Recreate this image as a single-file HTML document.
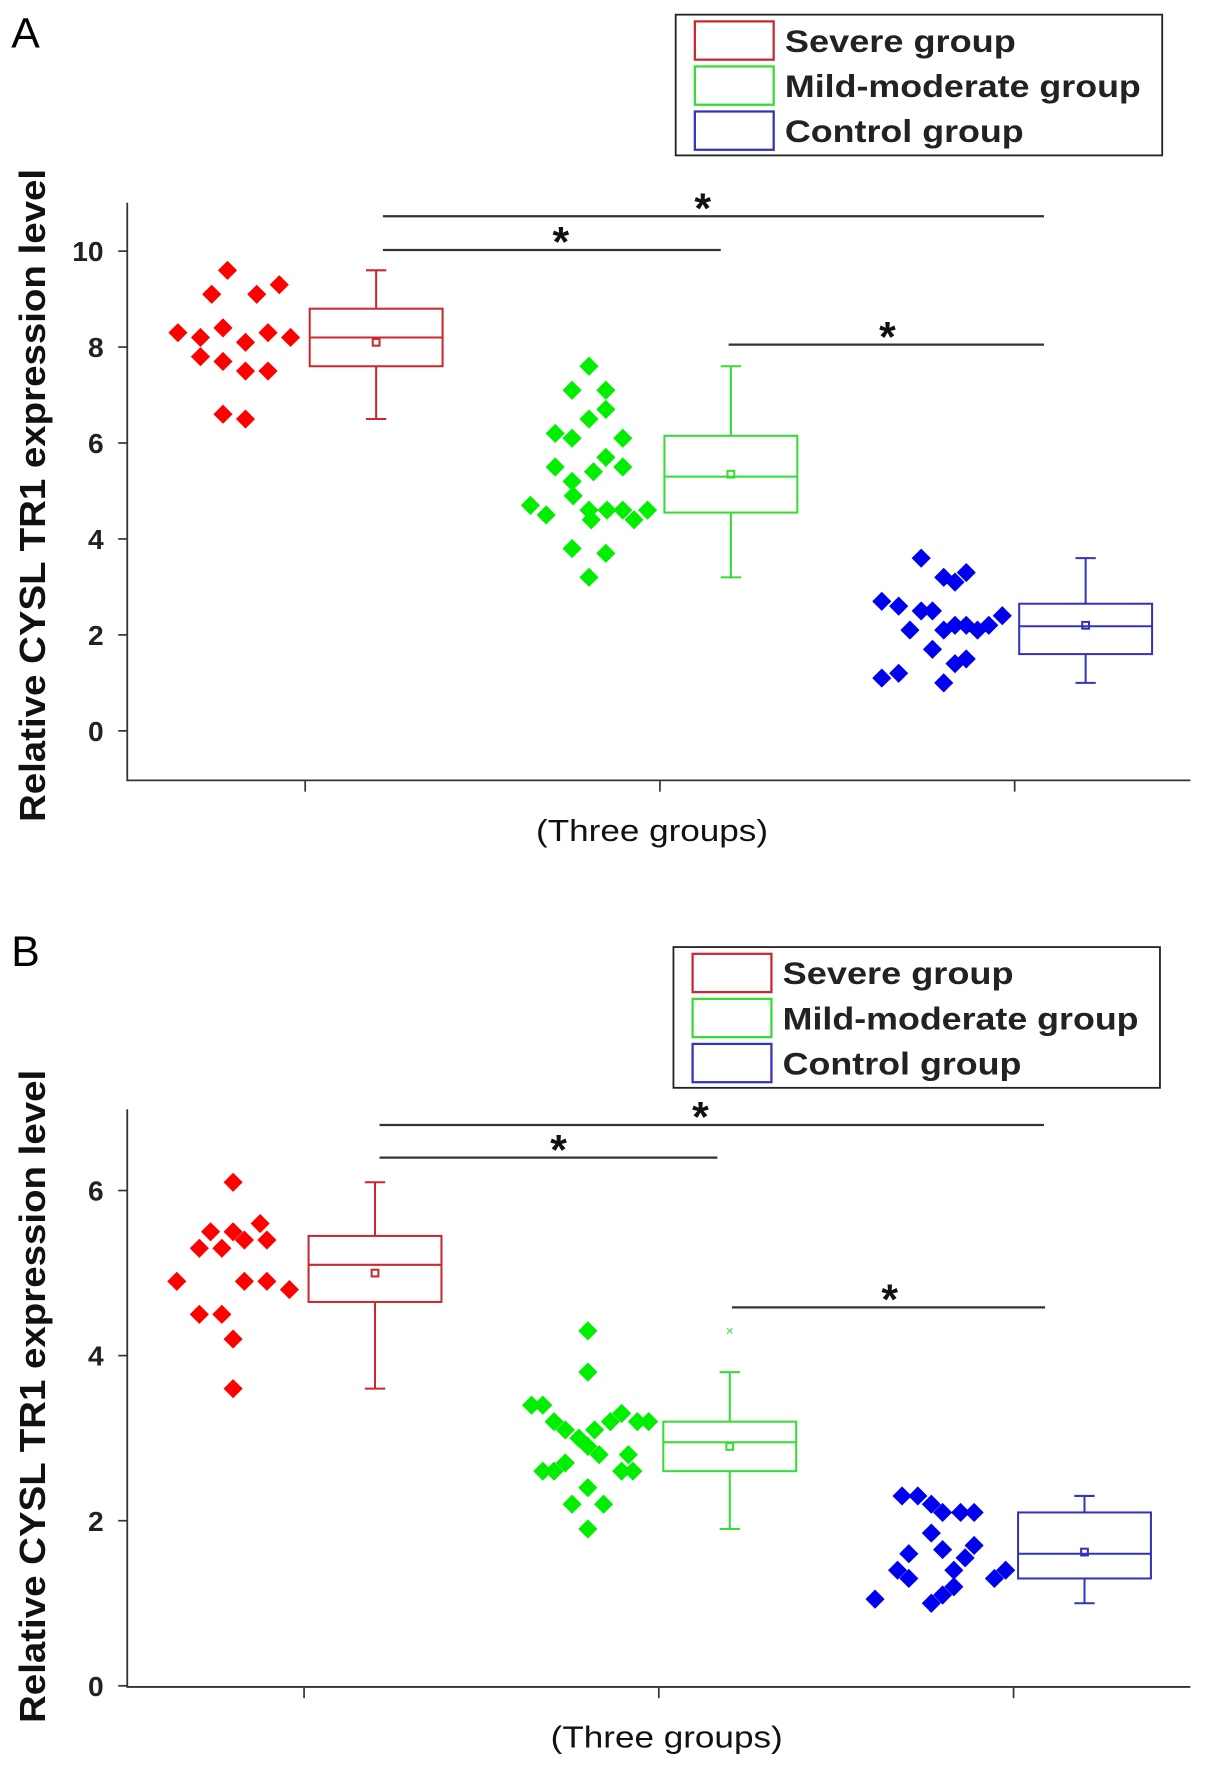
<!DOCTYPE html>
<html><head><meta charset="utf-8"><style>
html,body{margin:0;padding:0;background:#fff;}
svg{display:block;}
text{font-family:"Liberation Sans",sans-serif;}
</style></head><body>
<svg id="fig" width="1205" height="1768" viewBox="0 0 1070 1570" preserveAspectRatio="none" xmlns="http://www.w3.org/2000/svg"></svg>
<script>
// ---- Panel A data ----
const categories = ["Severe group","Mild-moderate group","Control group"];
const colors = ["#ff0000","#00ee00","#0000ee"];
const boxColors = ["#c8282e","#33dd33","#3333bb"];
const aRedVals = [9.6,9.1,9.1,9.3,8.3,8.2,8.4,8.1,8.3,8.2,7.8,7.7,7.5,7.5,6.6,6.5];
const aRedJit = [-0.3,-1,1,2,-2.5,-1.5,-0.5,0.5,1.5,2.5,-1.5,-0.5,0.5,1.5,-0.5,0.5];
const aGreenVals = [7.6,7.1,7.1,6.5,6.7,6.2,6.1,6.1,5.5,5.7,5.5,5.2,5.4,4.7,4.5,4.9,4.6,4.6,4.4,4.6,4.4,4.6,3.8,3.7,3.2];
const aGreenJit = [0,-0.75,0.75,0,0.75,-1.5,-0.75,1.5,-1.5,0.75,1.5,-0.75,0.2,-2.6,-1.9,-0.7,0,0.8,0.1,1.5,2,2.6,-0.75,0.75,0];
const aBlueVals = [3.6,3.2,3.1,3.3,2.7,2.6,2.5,2.5,2.1,2.1,2.2,2.2,2.1,2.2,2.4,1.7,1.4,1.5,1.1,1.2,1.0];
const aBlueJit = [-1,0,0.5,1,-2.75,-2,-1,-0.5,-1.5,0,0.5,1,1.5,2,2.6,-0.5,0.5,1,-2.75,-2,0];
const aBoxes = [[6.5,7.6,8.2,8.8,9.6,8.1],[3.2,4.55,5.3,6.15,7.6,5.35],[1.0,1.6,2.18,2.65,3.6,2.2]];
const aTicks = [0,2,4,6,8,10];
// ---- Panel B data ----
const bRedVals = [6.1,4.9,5.3,5.5,5.3,5.5,5.4,5.6,5.4,4.9,4.9,4.8,4.5,4.5,4.2,3.6];
const bRedJit = [0,-2.5,-1.5,-1,-0.5,0,0.5,1.2,1.5,0.5,1.5,2.5,-1.5,-0.5,0,0];
const bGreenVals = [4.3,3.8,3.4,3.4,3.2,3.1,3.0,2.9,2.8,3.1,3.2,3.3,3.2,3.2,2.6,2.6,2.7,2.6,2.6,2.8,2.4,2.2,2.2,1.9];
const bGreenJit = [0,0,-2.5,-2,-1.5,-1,-0.4,0,0.5,0.3,1,1.5,2.2,2.7,-2,-1.5,-1,1.5,2,1.8,0,-0.7,0.7,0];
const bBlueVals = [2.3,2.3,2.2,2.1,2.1,2.1,1.85,1.6,1.65,1.55,1.7,1.4,1.3,1.4,1.3,1.4,1.05,1.0,1.1,1.2];
const bBlueJit = [-1.8,-1.1,-0.5,0,0.8,1.4,-0.5,-1.5,0,1,1.4,-2,-1.5,0.5,2.3,2.8,-3,-0.5,0,0.5];
const bBoxes = [[3.6,4.65,5.1,5.45,6.1,5.0],[1.9,2.6,2.95,3.2,3.8,2.9],[1.0,1.3,1.6,2.1,2.3,1.62]];
const bOutliers = [[],[4.3],[]];
const bTicks = [0,2,4,6];

const NS="http://www.w3.org/2000/svg";
const svg=document.getElementById('fig');
function mk(tag,attrs,parent,txt){const e=document.createElementNS(NS,tag);for(const k in attrs)e.setAttribute(k,attrs[k]);if(txt!==undefined)e.textContent=txt;(parent||svg).appendChild(e);return e;}

function panel(o){
  const g=mk('g',{});
  
  
  const y=v=>o.y0-v*o.ppu;
  const catX=i=>o.catX0+i*315;
  const L=mk('text',{x:10,y:o.letterY,'font-size':38,fill:'#000'},g,o.letter);
  
  
  const ax=mk('path',{d:`M113 ${o.axTop} V${o.axBot} H1057`,stroke:'#333',fill:'none','stroke-width':1.6},g);
  
  
  o.ticks.forEach(t=>{
    mk('line',{x1:105,x2:113,y1:y(t),y2:y(t),stroke:'#333','stroke-width':1.5},g);
    const tl=mk('text',{x:92,y:y(t)+9,'font-size':25,'text-anchor':'end','font-weight':'bold',fill:'#222'},g,String(t));
    
    
  });
  for(let i=0;i<3;i++) mk('line',{x1:catX(i),x2:catX(i),y1:o.axBot,y2:o.axBot+10,stroke:'#333','stroke-width':1.5},g);
  const yt=mk('text',{transform:`translate(40 ${o.ytC}) rotate(-90)`,'font-size':32,'font-weight':'bold','text-anchor':'middle',textLength:580,lengthAdjust:'spacingAndGlyphs',fill:'#111'},g,'Relative CYSL TR1 expression level');
  
  
  const xt=mk('text',{x:o.xtX,y:o.axBot+54,'font-size':27,'text-anchor':'middle',textLength:206,lengthAdjust:'spacingAndGlyphs',fill:'#111'},g,'(Three groups)');
  
  
  o.pts.forEach((p,i)=>{
    const cx=catX(i)-63;
    p[0].forEach((v,j)=>{
      const px=cx+p[1][j]*20, py=y(v), r=8.5;
      const d=mk('path',{d:`M${px} ${py-r}L${px+r} ${py}L${px} ${py+r}L${px-r} ${py}Z`,fill:colors[i]},g);
      
      
    });
  });
  o.boxes.forEach((b,i)=>{
    const c=catX(i)+63, w=59, col=boxColors[i];
    const bg=mk('g',{stroke:col,fill:'none','stroke-width':1.8},g);
    
    
    mk('rect',{x:c-w,y:y(b[3]),width:2*w,height:y(b[1])-y(b[3])},bg);
    mk('line',{x1:c-w,x2:c+w,y1:y(b[2]),y2:y(b[2])},bg);
    mk('line',{x1:c,x2:c,y1:y(b[4]),y2:y(b[3])},bg);
    mk('line',{x1:c,x2:c,y1:y(b[1]),y2:y(b[0])},bg);
    mk('line',{x1:c-9,x2:c+9,y1:y(b[4]),y2:y(b[4])},bg);
    mk('line',{x1:c-9,x2:c+9,y1:y(b[0]),y2:y(b[0])},bg);
    mk('rect',{x:c-3,y:y(b[5])-3,width:6,height:6},bg);
    (o.out[i]||[]).forEach(v=>{mk('text',{x:c,y:y(v)+4,'font-size':12,'text-anchor':'middle',fill:col,stroke:'none'},bg,'×');});
  });
  o.sig.forEach(s=>{
    const l=mk('line',{x1:s[0],x2:s[1],y1:s[2],y2:s[2],stroke:'#333','stroke-width':2},g);
    
    
    const st=mk('text',{x:s[3],y:s[2]+6,'font-size':38,'font-weight':'bold','text-anchor':'middle',fill:'#111'},g,'*');
    
    
  });
  const lg=mk('g',{},g);
  
  
  mk('rect',{x:o.lx,y:o.ly,width:432,height:125,fill:'#fff',stroke:'#222','stroke-width':1.6},lg);
  const lens=[205,316,212];
  categories.forEach((c,i)=>{
    mk('rect',{x:o.lx+17,y:o.ly+6+i*40,width:70,height:34,fill:'none',stroke:boxColors[i],'stroke-width':2},lg);
    const t=mk('text',{x:o.lx+97,y:o.ly+33+i*40,'font-size':28,'font-weight':'bold',textLength:lens[i],lengthAdjust:'spacingAndGlyphs',fill:'#222'},lg,c);
    
    
  });
}

panel({name:'panel-a',letter:'A',letterY:42,y0:649,ppu:42.6,axTop:180,axBot:693,catX0:271,xtX:579,ytC:440,ticks:aTicks,
  pts:[[aRedVals,aRedJit],[aGreenVals,aGreenJit],[aBlueVals,aBlueJit]],boxes:aBoxes,out:[[],[],[]],
  sig:[[340,927,192,624],[340,640,222,498],[647,927,306,788]],lx:600,ly:13});
panel({name:'panel-b',letter:'B',letterY:858,y0:1497,ppu:73.3,axTop:985,axBot:1498,catX0:270,xtX:592,ytC:1240,ticks:bTicks,
  pts:[[bRedVals,bRedJit],[bGreenVals,bGreenJit],[bBlueVals,bBlueJit]],boxes:bBoxes,out:bOutliers,
  sig:[[337,927,999,622],[337,637,1028,496],[650,928,1161,790]],lx:598,ly:841});
</script>
</body></html>
